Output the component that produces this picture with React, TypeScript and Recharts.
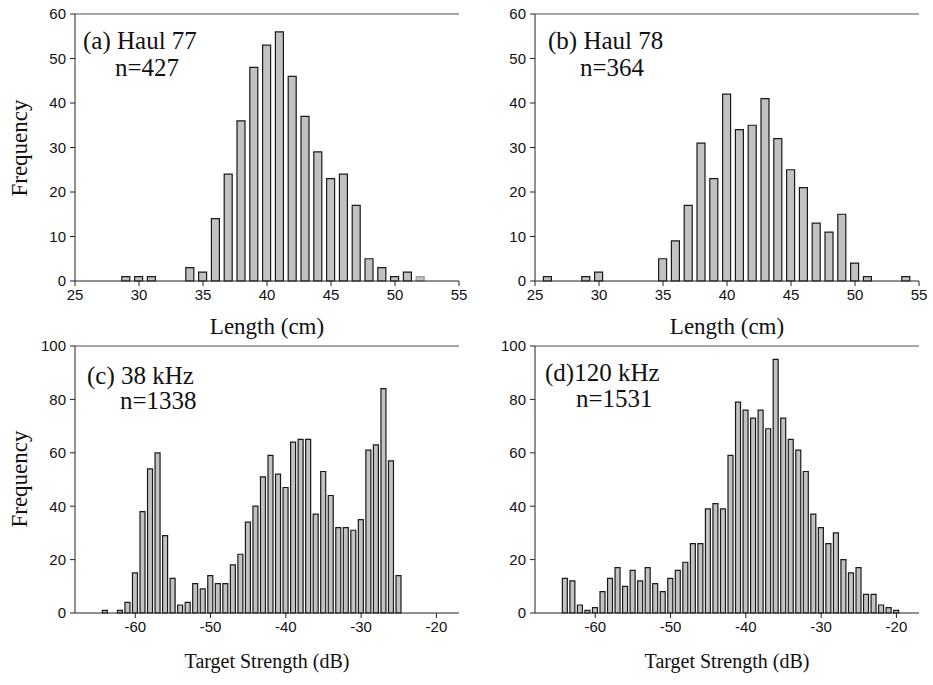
import { Bar, BarChart, Cell, ReferenceLine, XAxis, YAxis } from 'recharts';

// Length-frequency, haul 77 (cm bins)
const haul77Length = [29, 30, 31, 34, 35, 36, 37, 38, 39, 40, 41, 42, 43, 44, 45, 46, 47, 48, 49, 50, 51, 52];
const haul77Count = [1, 1, 1, 3, 2, 14, 24, 36, 48, 53, 56, 46, 37, 29, 23, 24, 17, 5, 3, 1, 2, 1];

// Length-frequency, haul 78 (cm bins)
const haul78Length = [26, 29, 30, 35, 36, 37, 38, 39, 40, 41, 42, 43, 44, 45, 46, 47, 48, 49, 50, 51, 54];
const haul78Count = [1, 1, 2, 5, 9, 17, 31, 23, 42, 34, 35, 41, 32, 25, 21, 13, 11, 15, 4, 1, 1];

// Target strength, 38 kHz (1 dB bins)
const ts38Db = [
  -64, -62, -61, -60, -59, -58, -57, -56, -55, -54, -53, -52, -51, -50, -49, -48, -47, -46, -45, -44,
  -43, -42, -41, -40, -39, -38, -37, -36, -35, -34, -33, -32, -31, -30, -29, -28, -27, -26, -25,
];
const ts38Count = [
  1, 1, 4, 15, 38, 54, 60, 29, 13, 3, 4, 11, 9, 14, 11, 11, 18, 22, 34, 40,
  51, 59, 52, 47, 64, 65, 65, 37, 53, 44, 32, 32, 31, 35, 61, 63, 84, 57, 14,
];

// Target strength, 120 kHz (1 dB bins)
const ts120Db = [
  -64, -63, -62, -61, -60, -59, -58, -57, -56, -55, -54, -53, -52, -51, -50, -49, -48, -47, -46, -45,
  -44, -43, -42, -41, -40, -39, -38, -37, -36, -35, -34, -33, -32, -31, -30, -29, -28, -27, -26, -25,
  -24, -23, -22, -21, -20,
];
const ts120Count = [
  13, 12, 3, 1, 2, 8, 13, 17, 10, 16, 12, 17, 11, 8, 13, 16, 19, 26, 26, 39,
  41, 39, 59, 79, 76, 73, 76, 69, 95, 73, 65, 61, 53, 37, 32, 26, 30, 20, 15, 17,
  7, 7, 3, 2, 1,
];

const lengthTicks = [25, 30, 35, 40, 45, 50, 55];
const tsTicks = [-60, -50, -40, -30, -20];
const lengthFreqTicks = [0, 10, 20, 30, 40, 50, 60];
const tsFreqTicks = [0, 20, 40, 60, 80, 100];

const SERIF = '"Liberation Serif", "DejaVu Serif", serif';
const SANS = '"Liberation Sans", Arial, sans-serif';

const PLOT_W = 384;
const PLOT_H = 267;
const Y_AXIS_W = 75;
const TOP = 14;

interface PanelProps {
  left: number;
  top: number;
  xs: number[];
  counts: number[];
  xDomain: [number, number];
  xTicks: number[];
  yMax: number;
  yTicks: number[];
  barSize: number;
  faint?: number[];
}

function Histogram({ left, top, xs, counts, xDomain, xTicks, yMax, yTicks, barSize, faint = [] }: PanelProps) {
  const data = xs.map((x, i) => ({ x, n: counts[i] }));
  const tick = { fontFamily: SANS, fontSize: 15, fill: '#111' };
  return (
    <div style={{ position: 'absolute', left: left - Y_AXIS_W, top: top - TOP }}>
      <BarChart
        width={Y_AXIS_W + PLOT_W + 10}
        height={TOP + PLOT_H + 40}
        data={data}
        margin={{ top: TOP, right: 10, bottom: 0, left: 0 }}
      >
        <XAxis
          dataKey="x"
          type="number"
          domain={xDomain}
          ticks={xTicks}
          height={40}
          interval={0}
          tick={tick}
          tickSize={5}
          tickMargin={3}
          stroke="#222"
          allowDecimals={false}
        />
        <YAxis
          type="number"
          domain={[0, yMax]}
          ticks={yTicks}
          width={Y_AXIS_W}
          tick={tick}
          tickSize={5}
          tickMargin={4}
          stroke="#222"
          interval={0}
        />
        <ReferenceLine y={yMax} stroke="#888" strokeWidth={1.5} />
        <Bar dataKey="n" barSize={barSize} fill="#c2c2c2" stroke="#1a1a1a" strokeWidth={1.2} isAnimationActive={false}>
          {data.map((d, i) => (
            <Cell key={`c-${i}`} stroke={faint.includes(d.x) ? '#999' : '#1a1a1a'} />
          ))}
        </Bar>
      </BarChart>
    </div>
  );
}

function Text({ x, y, size, children, center, rotate }: { x: number; y: number; size: number; children: string; center?: boolean; rotate?: boolean }) {
  return (
    <div
      style={{
        position: 'absolute',
        left: x,
        top: y,
        fontFamily: SERIF,
        fontSize: size,
        color: '#111',
        whiteSpace: 'nowrap',
        lineHeight: 1,
        transform: rotate ? 'translate(-50%, -50%) rotate(-90deg)' : center ? 'translate(-50%, -50%)' : 'translateY(-50%)',
      }}
    >
      {children}
    </div>
  );
}

export default function App() {
  return (
    <div style={{ position: 'absolute', left: 0, top: 0, width: 933, height: 685, background: '#fff', overflow: 'hidden' }}>
      <Histogram left={75} top={14} xs={haul77Length} counts={haul77Count} xDomain={[25, 55]} xTicks={lengthTicks}
        yMax={60} yTicks={lengthFreqTicks} barSize={8} faint={[52]} />
      <Histogram left={535} top={14} xs={haul78Length} counts={haul78Count} xDomain={[25, 55]} xTicks={lengthTicks}
        yMax={60} yTicks={lengthFreqTicks} barSize={8} />
      <Histogram left={75} top={346} xs={ts38Db} counts={ts38Count} xDomain={[-68, -17]} xTicks={tsTicks}
        yMax={100} yTicks={tsFreqTicks} barSize={5} />
      <Histogram left={535} top={346} xs={ts120Db} counts={ts120Count} xDomain={[-68, -17]} xTicks={tsTicks}
        yMax={100} yTicks={tsFreqTicks} barSize={5} />

      <Text x={19} y={148} size={23} rotate>Frequency</Text>
      <Text x={19} y={479} size={23} rotate>Frequency</Text>
      <Text x={267} y={326} size={23} center>Length (cm)</Text>
      <Text x={727} y={326} size={23} center>Length (cm)</Text>
      <Text x={267} y={661} size={20} center>Target Strength (dB)</Text>
      <Text x={727} y={661} size={20} center>Target Strength (dB)</Text>

      <Text x={83} y={40} size={25}>(a) Haul 77</Text>
      <Text x={115} y={67} size={25}>n=427</Text>
      <Text x={548} y={40} size={25}>(b) Haul 78</Text>
      <Text x={580} y={67} size={25}>n=364</Text>
      <Text x={87} y={375} size={25}>(c) 38 kHz</Text>
      <Text x={120} y={400} size={25}>n=1338</Text>
      <Text x={545} y={372} size={25}>(d)120 kHz</Text>
      <Text x={576} y={398} size={25}>n=1531</Text>
    </div>
  );
}
